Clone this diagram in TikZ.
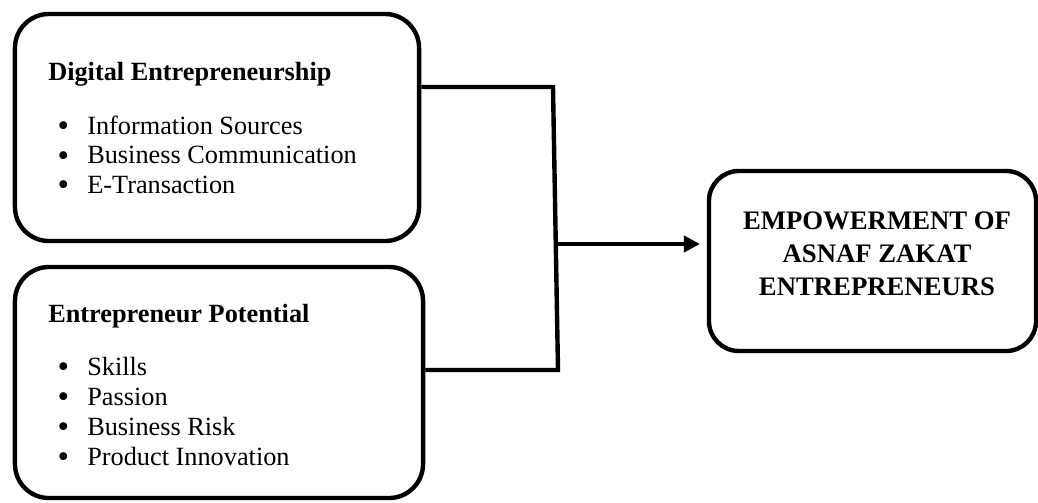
\documentclass[tikz,border=0pt]{standalone}
\usepackage{fontspec}
\setmainfont{Liberation Serif}
\usetikzlibrary{arrows.meta}

\newcommand{\bodysize}{\fontsize{18.7pt}{21pt}\selectfont}
\newcommand{\outsize}{\fontsize{19pt}{23.5pt}\selectfont}
\newcommand{\bul}{\makebox[0pt]{\raisebox{-1.8pt}{\scalebox{1.25}{\textbullet}}}\hspace{0.6cm}}

\tikzset{
  box/.style={draw, line width=0.11cm, rounded corners=0.85cm, inner sep=0pt},
  link/.style={line width=0.11cm},
  txt/.style={inner sep=0pt, anchor=base west, font=\bodysize}
}

\begin{document}
\begin{tikzpicture}[x=0.025cm, y=-0.025cm]
    \useasboundingbox (0,0) rectangle (1038,502);
    % the two input boxes
    \node[box, minimum width=10.1cm, minimum height=5.675cm] (dig) at (217,127.5) {};
    \node[box, minimum width=10.2cm, minimum height=5.775cm] (pot) at (219,382.5) {};
    \node[txt] (digtitle) at (48,80) {\textbf{Digital Entrepreneurship}};
    \foreach \t [count=\i] in {Information Sources, Business Communication, E-Transaction}
      \node[txt] (digitem\i) at (63,{134+29.5*(\i-1)}) {\bul\t};
    \node[txt] (pottitle) at (48,322) {\textbf{Entrepreneur Potential}};
    \foreach \t [count=\i] in {Skills, Passion, Business Risk, Product Innovation}
      \node[txt] (potitem\i) at (63,{375+30*(\i-1)}) {\bul\t};
    % outcome box
    \node[box, rounded corners=0.75cm, minimum width=8.175cm, minimum height=4.5cm] (emp) at (872.5,261) {};
    \node[inner sep=0pt, align=center, font=\outsize\bfseries] (emptext) at (877,254)
      {EMPOWERMENT OF\\ASNAF ZAKAT\\ENTREPRENEURS};
    % connectors
    \coordinate (jtop) at (553,87);
    \coordinate (jbot) at (558,370);
    \coordinate (jmid) at (556,244);
    \draw[link] (dig.east |- jtop) -- (jtop) -- (jbot) -- (pot.east |- jbot);
    \draw[link, -{Triangle[length=0.4cm, width=0.4cm]}, shorten >=0.17cm] (jmid) -- (jmid -| emp.west);
  \end{tikzpicture}
\end{document}
